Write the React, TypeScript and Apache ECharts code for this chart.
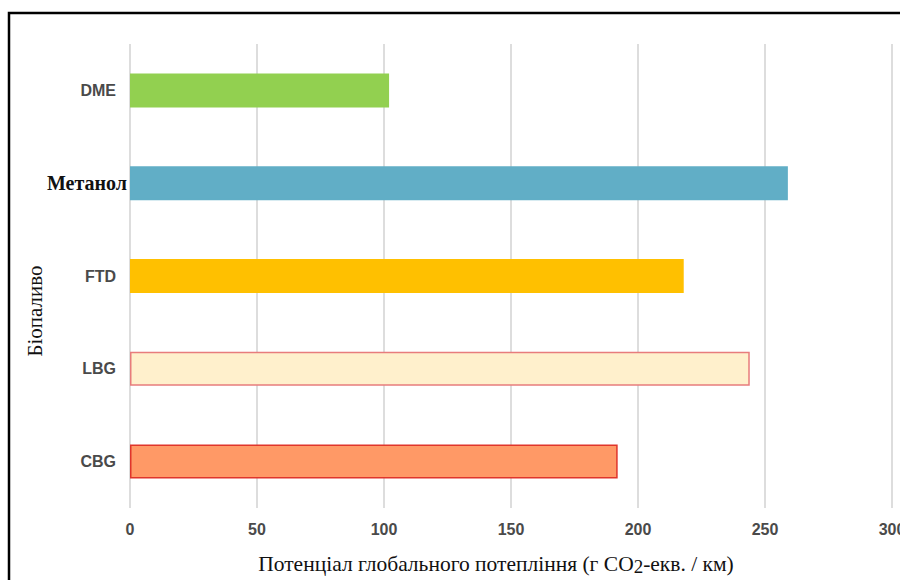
import React, { useEffect, useRef } from "react";
import * as echarts from "echarts";

const categories = ["DME", "Метанол", "FTD", "LBG", "CBG"];
const values = [102, 259, 218, 244, 192];
const fillColors = ["#92d050", "#61aec6", "#ffc000", "#fff0cc", "#ff9966"];
const borderColors = ["#92d050", "#61aec6", "#ffc000", "#e87c7c", "#e0352b"];
const xTicks = [0, 50, 100, 150, 200, 250, 300];

const serif = "Liberation Serif, Times New Roman, serif";
const sans = "Liberation Sans, Arial, sans-serif";

export default function App() {
  const ref = useRef<HTMLDivElement>(null);

  useEffect(() => {
    document.body.style.margin = "0";
    const chart = echarts.init(ref.current!, null, { renderer: "svg" });
    chart.setOption({
      animation: false,
      backgroundColor: "#ffffff",
      grid: {
        left: 130,
        right: 8,
        top: 44,
        bottom: 72,
        outerBoundsMode: "none",
        containLabel: false,
      },
      xAxis: {
        type: "value",
        min: xTicks[0],
        max: xTicks[xTicks.length - 1],
        interval: 50,
        axisLine: { show: false },
        axisTick: { show: false },
        splitLine: { show: true, lineStyle: { color: "#dddddd", width: 2 } },
        axisLabel: {
          margin: 13,
          color: "#4a4a4a",
          fontFamily: sans,
          fontWeight: "bold",
          fontSize: 16,
        },
      },
      yAxis: {
        type: "category",
        data: categories,
        inverse: true,
        axisLine: { show: false },
        axisTick: { show: false },
        axisLabel: {
          margin: 14,
          formatter: (v: string) => (v === "Метанол" ? `{m|${v}}` : `{c|${v}}`),
          rich: {
            c: { color: "#4a4a4a", fontFamily: sans, fontWeight: "bold", fontSize: 16 },
            m: {
              color: "#111111",
              fontFamily: serif,
              fontWeight: "bold",
              fontSize: 20,
              padding: [0, -11, 0, 0],
            },
          },
        },
      },
      series: [
        {
          type: "bar",
          barWidth: 34,
          data: values.map((v, i) => ({
            value: v,
            itemStyle: {
              color: fillColors[i],
              borderColor: borderColors[i],
              borderWidth: 1.5,
            },
          })),
        },
      ],
      graphic: [
        {
          type: "text",
          x: 496,
          y: 564,
          style: {
            text: "{a|Потенціал глобального потепління (г CO}{s|2}{a|-екв. / км)}",
            align: "center",
            verticalAlign: "middle",
            rich: {
              a: { fontFamily: serif, fontSize: 21.5, fill: "#111111" },
              s: {
                fontFamily: serif,
                fontSize: 19,
                fill: "#111111",
                verticalAlign: "bottom",
                padding: [5, 0, 0, 0],
              },
            },
          },
        },
        {
          type: "text",
          x: 35,
          y: 311,
          rotation: Math.PI / 2,
          style: {
            text: "Біопаливо",
            fontFamily: serif,
            fontSize: 21,
            fill: "#111111",
            align: "center",
            verticalAlign: "middle",
          },
        },
        {
          type: "polyline",
          shape: {
            points: [
              [9, 600],
              [9, 13],
              [910, 13],
            ],
          },
          style: { stroke: "#000000", lineWidth: 2.5, fill: "none" },
          z: 100,
        },
      ],
    });
    return () => chart.dispose();
  }, []);

  return <div ref={ref} style={{ width: 900, height: 580 }} />;
}
